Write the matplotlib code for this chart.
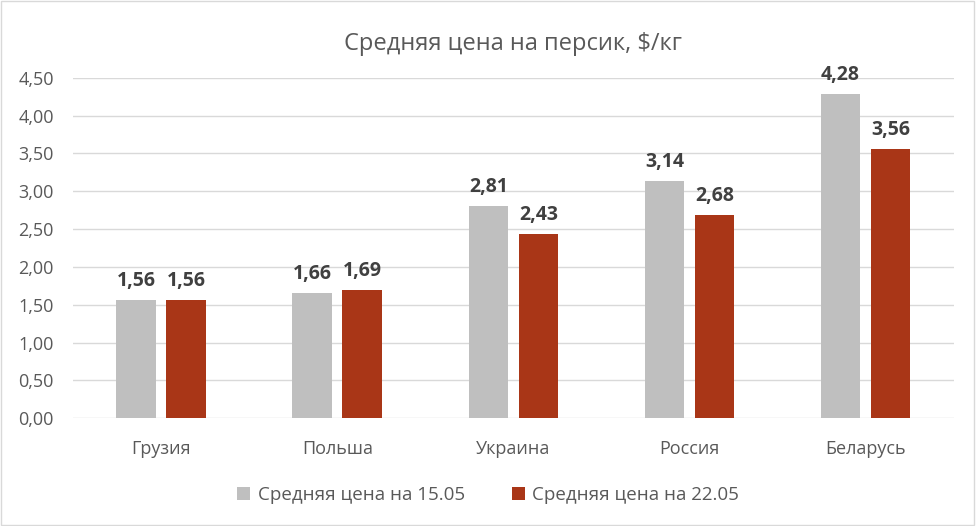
import numpy as np
import matplotlib.pyplot as plt
from matplotlib.patches import Rectangle

plt.rcParams['font.family'] = ['Open Sans', 'DejaVu Sans']

countries = ['Грузия', 'Польша', 'Украина', 'Россия', 'Беларусь']
price_1505 = [1.56, 1.66, 2.81, 3.14, 4.28]
price_2205 = [1.56, 1.69, 2.43, 2.68, 3.56]
labels = ['Средняя цена на 15.05', 'Средняя цена на 22.05']

fig = plt.figure(figsize=(9.76, 5.26), dpi=100)
ax = fig.add_axes([0.075, 0.205, 0.902, 0.647])

x = np.arange(len(countries))
w = 0.225
b1 = ax.bar(x - 0.142, price_1505, w, color='#BFBFBF', label=labels[0], zorder=3)
b2 = ax.bar(x + 0.142, price_2205, w, color='#A93617', label=labels[1], zorder=3)

for bars, vals in ((b1, price_1505), (b2, price_2205)):
    for r, v in zip(bars, vals):
        ax.text(r.get_x() + r.get_width() / 2, v + 0.12, ('%.2f' % v).replace('.', ','),
                ha='center', va='bottom', fontsize=14, fontweight='bold', color='#404040')

ax.set_ylim(0, 4.5)
ax.set_xlim(-0.5, 4.5)
ax.set_yticks(np.arange(0, 4.51, 0.5))
ax.set_yticklabels([('%.2f' % t).replace('.', ',') for t in np.arange(0, 4.51, 0.5)])
ax.set_xticks(x)
ax.set_xticklabels(countries)
ax.tick_params(length=0, labelsize=13, colors='#595959')
ax.tick_params(axis='x', pad=16)
ax.tick_params(axis='y', pad=14)
ax.grid(axis='y', color='#D9D9D9', linewidth=1, zorder=0)
for s in ax.spines.values():
    s.set_visible(False)

ax.set_title('Средняя цена на персик, $/кг', fontsize=17, color='#595959', pad=20)

fig.legend(loc='lower center', bbox_to_anchor=(0.5, 0.01), ncol=2, frameon=False,
           fontsize=13.5, labelcolor='#595959', handlelength=0.7, handleheight=0.7,
           columnspacing=2.5, handletextpad=0.4)

fig.patches.append(Rectangle((0.001, 0.001), 0.997, 0.997, transform=fig.transFigure,
                             fill=False, edgecolor='#D9D9D9', linewidth=1))

fig.savefig('out.png', dpi=100)
